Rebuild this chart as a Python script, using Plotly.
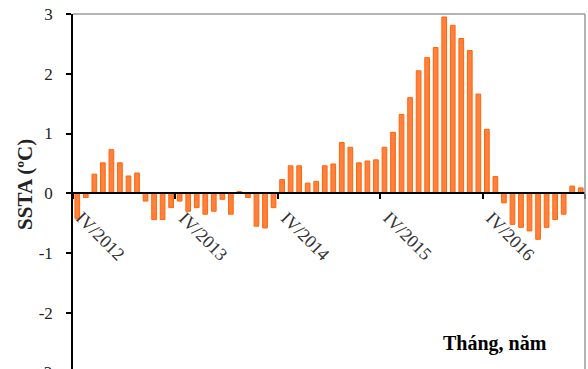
import plotly.graph_objects as go

# Monthly sea-surface temperature anomaly, April 2012 - March 2017
ssta_2012 = [-0.42, -0.07, 0.32, 0.51, 0.73, 0.51, 0.29, 0.34, -0.13, -0.44, -0.44, -0.24]
ssta_2013 = [-0.13, -0.30, -0.24, -0.35, -0.30, -0.10, -0.35, 0.03, -0.07, -0.55, -0.58, -0.24]
ssta_2014 = [0.23, 0.46, 0.46, 0.17, 0.20, 0.46, 0.49, 0.85, 0.77, 0.51, 0.54, 0.56]
ssta_2015 = [0.77, 1.02, 1.32, 1.60, 2.05, 2.27, 2.44, 2.95, 2.81, 2.59, 2.39, 1.66]
ssta_2016 = [1.07, 0.28, -0.16, -0.52, -0.57, -0.63, -0.77, -0.57, -0.44, -0.35, 0.12, 0.09]

year_labels = ["IV/2012", "IV/2013", "IV/2014", "IV/2015", "IV/2016"]
y_ticks = [-3, -2, -1, 0, 1, 2, 3]
y_tick_text = ["-3", "-2", "-1", "0", "1", "2", "3"]

ssta = ssta_2012 + ssta_2013 + ssta_2014 + ssta_2015 + ssta_2016
months = list(range(len(ssta)))

y_lo, y_hi = -2.94, 3.0
x_lo, x_hi = -0.5, len(ssta) - 0.5
year_edges = [x_lo + 12 * i for i in range(len(year_labels) + 1)]

serif = "Liberation Serif"

fig = go.Figure(
    go.Bar(
        x=months,
        y=ssta,
        width=0.55,
        marker=dict(color="rgb(255,128,64)", line=dict(color="rgb(255,102,0)", width=1)),
    )
)

zero_pos = (0 - y_lo) / (y_hi - y_lo)

# year labels hang diagonally from each year-boundary tick on the zero line
year_annotations = [
    dict(text=label, x=edge, y=0, xref="x", yref="y", textangle=45,
         xanchor="left", yanchor="top", xshift=-4, yshift=-12, showarrow=False,
         font=dict(family=serif, size=18, color="#333333"))
    for label, edge in zip(year_labels, year_edges)
]

fig.update_layout(
    width=588,
    height=369,
    margin=dict(l=73, r=3, t=14, b=0),
    paper_bgcolor="white",
    plot_bgcolor="white",
    showlegend=False,
    xaxis=dict(
        range=[x_lo, x_hi],
        showgrid=False,
        zeroline=False,
        showline=True,
        linecolor="black",
        linewidth=1.5,
        anchor="free",
        position=zero_pos,
        tickmode="array",
        tickvals=year_edges,
        showticklabels=False,
        ticks="outside",
        ticklen=5,
        tickwidth=1.5,
        tickcolor="black",
    ),
    yaxis=dict(
        range=[y_lo, y_hi],
        showgrid=False,
        zeroline=False,
        showline=True,
        linecolor="black",
        linewidth=1.5,
        tickmode="array",
        tickvals=y_ticks,
        ticktext=y_tick_text,
        ticks="outside",
        ticklen=5,
        tickwidth=1.5,
        tickcolor="black",
        ticklabelstandoff=10,
        tickfont=dict(family=serif, size=17, color="#222222"),
    ),
    shapes=[
        dict(type="line", xref="paper", yref="paper", x0=0, x1=1, y0=1, y1=1,
             line=dict(color="#9a9a9a", width=1.5)),
        dict(type="line", xref="paper", yref="paper", x0=1, x1=1, y0=0, y1=1,
             line=dict(color="#9a9a9a", width=1.5)),
    ],
    annotations=year_annotations + [
        dict(text="<b>SSTA (ºC)</b>", textangle=-90, xref="paper", yref="paper",
             x=-0.094, y=0.521, xanchor="center", yanchor="middle", showarrow=False,
             font=dict(family=serif, size=21, color="#222222")),
        dict(text="<b>Tháng, năm</b>", xref="paper", yref="paper",
             x=0.824, y=0.073, xanchor="center", yanchor="middle", showarrow=False,
             font=dict(family=serif, size=20, color="black")),
        # lowest tick label, partly beyond the bottom edge
        dict(text=y_tick_text[0], xref="paper", yref="paper", xanchor="right", yanchor="middle",
             x=-0.037, y=(y_ticks[0] - y_lo) / (y_hi - y_lo), showarrow=False,
             font=dict(family=serif, size=17, color="#222222")),
    ],
)

fig.write_html("out.html")
